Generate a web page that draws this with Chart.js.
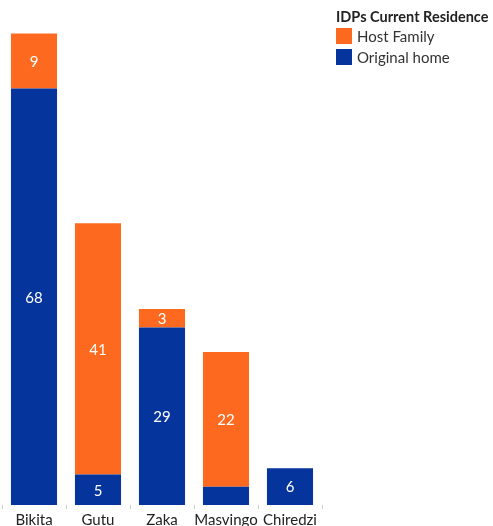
<!DOCTYPE html>
<html>
<head>
<meta charset="utf-8">
<script src="https://cdn.jsdelivr.net/npm/chart.js@4/dist/chart.umd.min.js"></script>
<style>
  html, body { margin: 0; padding: 0; background: #fff; overflow: hidden; }
  #wrap { position: relative; width: 493px; height: 526px; }
  #legend { position: absolute; left: 336px; top: 8px; font-family: Lato, "Open Sans", sans-serif; color: #333; }
  #legend .title { font-weight: bold; font-size: 14.5px; color: #222; margin-bottom: 0px; white-space: nowrap; }
  #legend .item { display: flex; align-items: center; font-size: 15px; height: 21px; }
  #legend .sw { width: 16px; height: 16px; margin-right: 5px; }
</style>
</head>
<body>
<div id="wrap">
  <canvas id="c" width="493" height="526"></canvas>
  <div id="legend"></div>
</div>
<script>
// Districts and number of IDPs by current residence
const districts = ["Bikita", "Gutu", "Zaka", "Masvingo", "Chiredzi"];
const originalHome = [68, 5, 29, 3, 6];
const hostFamily = [9, 41, 3, 22, 0];
// Which segment labels are printed (small Masvingo segment is left unlabeled)
const showOriginalLabel = [true, true, true, false, true];
const showHostLabel = [true, true, true, true, false];

const seriesNames = ["Host Family", "Original home"];
const colours = { host: "#fd6a1f", original: "#06349d" };
const legendTitle = "IDPs Current Residence";

// Legend built as HTML
const legend = document.getElementById("legend");
legend.innerHTML = '<div class="title">' + legendTitle + '</div>' +
  '<div class="item"><div class="sw" style="background:' + colours.host + '"></div>' + seriesNames[0] + '</div>' +
  '<div class="item"><div class="sw" style="background:' + colours.original + '"></div>' + seriesNames[1] + '</div>';

// Draws each segment's value in white at its centre
const segmentLabels = {
  id: "segmentLabels",
  afterDatasetsDraw(chart) {
    const ctx = chart.ctx;
    ctx.save();
    ctx.fillStyle = "#ffffff";
    ctx.font = "15px Lato, 'Open Sans', sans-serif";
    ctx.textAlign = "center";
    ctx.textBaseline = "middle";
    chart.data.datasets.forEach((ds, di) => {
      const meta = chart.getDatasetMeta(di);
      meta.data.forEach((bar, i) => {
        const v = ds.data[i];
        if (!v || !ds.showLabel[i]) return;
        const yMid = (bar.y + bar.base) / 2;
        ctx.fillText(String(v), bar.x, yMid + 1);
      });
    });
    ctx.restore();
  }
};

new Chart(document.getElementById("c"), {
  type: "bar",
  data: {
    labels: districts,
    datasets: [
      { label: seriesNames[1], data: originalHome, backgroundColor: colours.original, showLabel: showOriginalLabel, categoryPercentage: 1, barPercentage: 0.72 },
      { label: seriesNames[0], data: hostFamily, backgroundColor: colours.host, showLabel: showHostLabel, categoryPercentage: 1, barPercentage: 0.72 }
    ]
  },
  options: {
    responsive: false,
    animation: false,
    layout: { padding: { left: 2, right: 171, top: 15, bottom: -5 } },
    plugins: { legend: { display: false }, tooltip: { enabled: false } },
    scales: {
      x: {
        stacked: true,
        border: { display: false },
        grid: { offset: true, drawOnChartArea: false, drawTicks: true, tickLength: 4, color: "#cfcfcf" },
        ticks: { color: "#222", font: { family: "Lato, 'Open Sans', sans-serif", size: 15 }, padding: 2, maxRotation: 0, autoSkip: false }
      },
      y: {
        stacked: true,
        display: false,
        min: 0,
        max: 80
      }
    }
  },
  plugins: [segmentLabels]
});
</script>
</body>
</html>
